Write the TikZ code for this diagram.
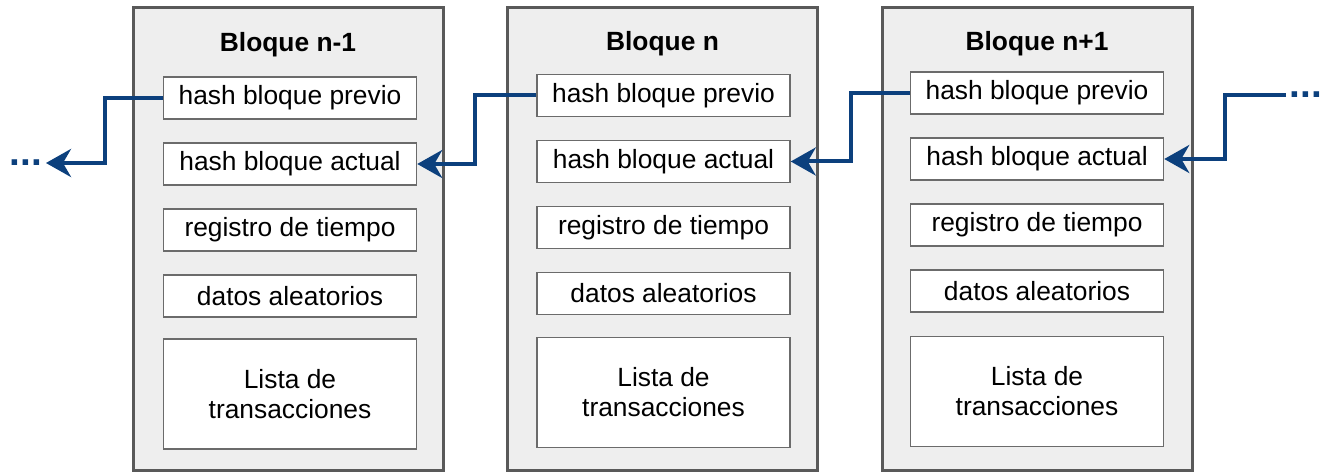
\documentclass[tikz,border=0pt]{standalone}
\usepackage{fontspec}
\setmainfont{Liberation Sans}
\usetikzlibrary{arrows.meta}
\definecolor{bordeBloque}{HTML}{595959}
\definecolor{fondoBloque}{HTML}{EEEEEE}
\definecolor{bordeCampo}{HTML}{6B6B6B}
\definecolor{azulFlecha}{HTML}{0C407D}
\begin{document}
\begin{tikzpicture}[
        bloque/.style={draw=bordeBloque, line width=0.06cm, fill=fondoBloque,
        minimum width=6.2cm, minimum height=9.24cm},
        titulo/.style={font=\fontsize{15}{17}\selectfont\bfseries},
        campo/.style={draw=bordeCampo, line width=0.03cm, fill=white, align=center,
        minimum width=5.06cm, minimum height=0.84cm, font=\fontsize{15}{17}\selectfont},
        lista/.style={campo, minimum height=2.2cm},
        puntos/.style={text=azulFlecha, inner sep=2pt, font=\fontsize{22}{22}\selectfont\bfseries},
        flecha/.style={azulFlecha, line width=0.08cm,
        -{Stealth[length=0.5cm, width=0.56cm, inset=0.16cm]}}
    ]
        \useasboundingbox (0,0) rectangle (26.54,9.44);
        % bloques
        \node[bloque] (b1) at (5.76,4.66) {};
        \node[bloque] (b2) at (13.25,4.66) {};
        \node[bloque] (b3) at (20.74,4.66) {};
        \node[titulo] (tit1) at (5.76,8.54) {Bloque n-1};
        \node[titulo] (tit2) at (13.25,8.56) {Bloque n};
        \node[titulo] (tit3) at (20.74,8.56) {Bloque n+1};
        % campos del bloque n-1
        \node[campo] (prev1) at (5.80,7.48) {hash bloque previo};
        \node[campo] (act1) at (5.80,6.16) {hash bloque actual};
        \node[campo] (reg1) at (5.80,4.84) {registro de tiempo};
        \node[campo] (dat1) at (5.80,3.52) {datos aleatorios};
        \node[lista] (lista1) at (5.80,1.56) {Lista de\\transacciones};
        % campos del bloque n
        \node[campo] (prev2) at (13.27,7.53) {hash bloque previo};
        \node[campo] (act2) at (13.27,6.21) {hash bloque actual};
        \node[campo] (reg2) at (13.27,4.89) {registro de tiempo};
        \node[campo] (dat2) at (13.27,3.57) {datos aleatorios};
        \node[lista] (lista2) at (13.27,1.59) {Lista de\\transacciones};
        % campos del bloque n+1
        \node[campo] (prev3) at (20.74,7.58) {hash bloque previo};
        \node[campo] (act3) at (20.74,6.26) {hash bloque actual};
        \node[campo] (reg3) at (20.74,4.94) {registro de tiempo};
        \node[campo] (dat3) at (20.74,3.62) {datos aleatorios};
        \node[lista] (lista3) at (20.74,1.61) {Lista de\\transacciones};
        % continuaciones
        \node[puntos] (izq) at (0.52,6.18) {...};
        \node[puntos] (der) at (26.12,7.54) {...};
        % enlaces
        \draw[flecha] (prev1.west) -- ++(-1.16,0) |- (izq.east);
        \draw[flecha] (prev2.west) -- ++(-1.22,0) |- (act1.east);
        \draw[flecha] (prev3.west) -- ++(-1.18,0) |- (act2.east);
        \draw[flecha] (der.west) -- ++(-1.22,0) |- (act3.east);
    \end{tikzpicture}
\end{document}
